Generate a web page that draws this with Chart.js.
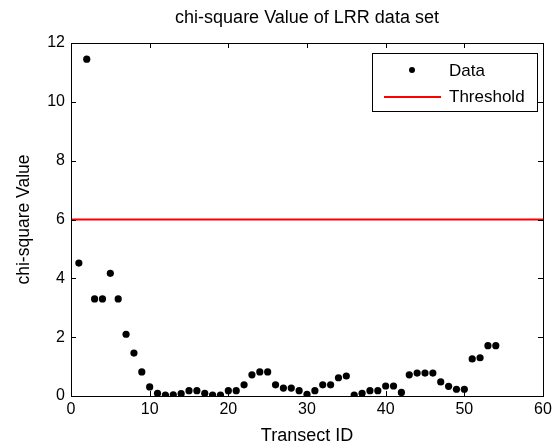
<!DOCTYPE html>
<html>
<head>
<meta charset="utf-8">
<script src="https://cdn.jsdelivr.net/npm/chart.js@4/dist/chart.umd.min.js"></script>
<style>
html,body{margin:0;padding:0;background:#fff;}
#wrap{width:560px;height:448px;position:relative;}
</style>
</head>
<body>
<div id="wrap"><canvas id="c" width="560" height="448"></canvas></div>
<script>
const transectIds = [1,2,3,4,5,6,7,8,9,10,11,12,13,14,15,16,17,18,19,20,21,22,23,24,25,26,27,28,29,30,31,32,33,34,35,36,37,38,39,40,41,42,43,44,45,46,47,48,49,50,51,52,53,54];
const chiSquareValues = [4.52,11.45,3.3,3.3,4.17,3.3,2.1,1.46,0.82,0.31,0.09,0.03,0.04,0.08,0.18,0.18,0.09,0.03,0.03,0.18,0.18,0.38,0.72,0.82,0.82,0.38,0.27,0.27,0.18,0.06,0.18,0.38,0.38,0.62,0.68,0.03,0.09,0.18,0.18,0.34,0.34,0.12,0.72,0.78,0.78,0.78,0.48,0.33,0.23,0.23,1.26,1.3,1.71,1.71];
const thresholdValue = 6;
const xRange = [0, 60];
const yRange = [0, 12];
const FONT = "'Liberation Sans', Arial, sans-serif";

const dataPoints = transectIds.map((id, i) => ({x: id, y: chiSquareValues[i]}));
const thresholdPoints = xRange.map(x => ({x: x, y: thresholdValue}));

const frame = {
  id: 'frame',
  afterDraw(chart) {
    const {ctx, chartArea: a, scales} = chart;
    ctx.save();
    ctx.strokeStyle = '#000';
    ctx.lineWidth = 1;
    ctx.strokeRect(Math.round(a.left)+0.5, Math.round(a.top)+0.5, Math.round(a.right-a.left), Math.round(a.bottom-a.top));
    const tl = 5;
    ctx.beginPath();
    scales.x.ticks.forEach(t => {
      const px = Math.round(scales.x.getPixelForValue(t.value)) + 0.5;
      ctx.moveTo(px, a.bottom); ctx.lineTo(px, a.bottom - tl);
      ctx.moveTo(px, a.top); ctx.lineTo(px, a.top + tl);
    });
    scales.y.ticks.forEach(t => {
      const py = Math.round(scales.y.getPixelForValue(t.value)) + 0.5;
      ctx.moveTo(a.left, py); ctx.lineTo(a.left + tl, py);
      ctx.moveTo(a.right, py); ctx.lineTo(a.right - tl, py);
    });
    ctx.stroke();
    // legend
    const lx = 372.5, ly = 53.5, lw = 165, lh = 58;
    ctx.fillStyle = '#fff';
    ctx.fillRect(lx, ly, lw, lh);
    ctx.strokeRect(lx, ly, lw, lh);
    const ds = chart.data.datasets;
    ctx.font = '17px ' + FONT;
    ctx.textBaseline = 'middle';
    ctx.textAlign = 'left';
    ctx.fillStyle = '#000';
    ctx.beginPath();
    ctx.arc(412, 70, 3, 0, Math.PI*2);
    ctx.fill();
    ctx.fillText(ds[0].label, 449, 71);
    ctx.strokeStyle = ds[1].borderColor;
    ctx.lineWidth = 2;
    ctx.beginPath();
    ctx.moveTo(384, 97); ctx.lineTo(441, 97);
    ctx.stroke();
    ctx.fillText(ds[1].label, 449, 97);
    ctx.restore();
  }
};

new Chart(document.getElementById('c'), {
  type: 'scatter',
  data: {
    datasets: [
      {label: 'Data', data: dataPoints, pointRadius: 3.6, pointHoverRadius: 3.6, backgroundColor: '#000', borderColor: '#000', borderWidth: 0, showLine: false, order: 1},
      {label: 'Threshold', data: thresholdPoints, showLine: true, borderColor: '#ff0000', backgroundColor: '#ff0000', borderWidth: 2, pointRadius: 0, order: 2}
    ]
  },
  options: {
    responsive: false,
    animation: false,
    devicePixelRatio: 1,
    layout: {padding: {left: 0, right: 17, top: 0, bottom: 0}},
    plugins: {
      legend: {display: false},
      tooltip: {enabled: false},
      title: {display: true, fullSize: false, text: 'chi-square Value of LRR data set', color: '#000', font: {family: FONT, size: 18, weight: 'normal'}, padding: {top: 7.2, bottom: 14.2}}
    },
    scales: {
      x: {
        type: 'linear', min: xRange[0], max: xRange[1],
        ticks: {stepSize: 10, color: '#000', font: {family: FONT, size: 16}, padding: 4, maxRotation: 0},
        grid: {display: false, drawTicks: false},
        border: {display: false},
        title: {display: true, text: 'Transect ID', color: '#000', font: {family: FONT, size: 18}, padding: {top: 0, bottom: 1.2}},
        afterFit(s) { s.height = 52; }
      },
      y: {
        type: 'linear', min: yRange[0], max: yRange[1],
        ticks: {stepSize: 2, color: '#000', font: {family: FONT, size: 16}, padding: 6},
        grid: {display: false, drawTicks: false},
        border: {display: false},
        title: {display: true, text: 'chi-square Value', color: '#000', font: {family: FONT, size: 17.5}, padding: {top: 13.5, bottom: 0}},
        afterFit(s) { s.width = 71; }
      }
    }
  },
  plugins: [frame]
});
</script>
</body>
</html>
